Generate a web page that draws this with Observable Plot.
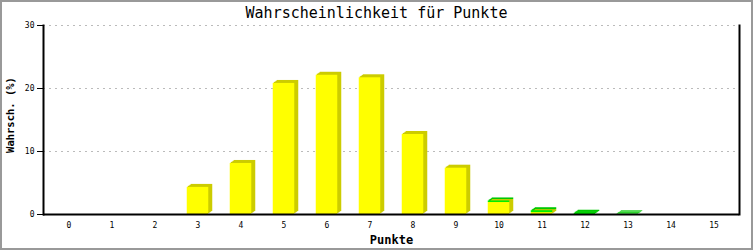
<!DOCTYPE html>
<html>
<head>
<meta charset="utf-8">
<script src="https://cdn.jsdelivr.net/npm/d3@7"></script>
<script src="https://cdn.jsdelivr.net/npm/@observablehq/plot@0.6"></script>
<style>
  html, body { margin: 0; padding: 0; background: #fff; }
  #wrap { position: relative; width: 753px; height: 250px; }
  #border { position: absolute; left: 0; top: 0; width: 753px; height: 250px; box-sizing: border-box; border: 2px solid #999; pointer-events: none; }
</style>
</head>
<body>
<div id="wrap"><div id="chart"></div><div id="border"></div></div>
<script>
const punkte = ["0","1","2","3","4","5","6","7","8","9","10","11","12","13","14","15"];
const gelb   = [0, 0, 0, 4.3, 8.1, 20.8, 22.1, 21.7, 12.7, 7.35, 1.9, 0.3, 0, 0, 0, 0];
const gruen  = [0, 0, 0, 0, 0, 0, 0, 0, 0, 0, 0.25, 0.3, 0.2, 0.1, 0, 0];
const yTicks = [0, 10, 20, 30];
const titel = "Wahrscheinlichkeit für Punkte";
const xTitel = "Punkte";
const yTitel = "Wahrsch. (%)";

const data = [];
punkte.forEach((p, i) => {
  data.push({p, s: "gelb", v: gelb[i]});
  data.push({p, s: "gruen", v: gruen[i]});
});
const rows = data.filter(d => d.v > 0);

const front = {gelb: "#ffff00", gruen: "#00ee00"};
const side = {gelb: "#cccc00", gruen: "#00c800"};

const inset = 10.75;
const shadowOffsets = [[1, -1], [2, -1.5], [3, -2.25], [4, -3]];
const shadowMarks = shadowOffsets.map(([dx, dy]) =>
  Plot.barY(rows, Plot.stackY({x: "p", y: "v", fill: d => side[d.s], insetLeft: inset, insetRight: inset, dx, dy}))
);

const chart = Plot.plot({
  width: 753,
  height: 250,
  marginLeft: 43,
  marginRight: 14,
  marginTop: 25,
  marginBottom: 36,
  style: {background: "transparent", fontFamily: "DejaVu Sans Mono", color: "#000"},
  x: {domain: punkte, padding: 0, label: null},
  y: {domain: [0, 30], label: null},
  marks: [
    Plot.gridY(yTicks.filter(t => t > 0), {stroke: "#bbbbbb", strokeOpacity: 1, strokeDasharray: "2,4", strokeWidth: 1}),
    ...shadowMarks,
    Plot.barY(rows, Plot.stackY({x: "p", y: "v", fill: d => front[d.s], insetLeft: inset, insetRight: inset})),
    Plot.axisY({ticks: yTicks, tickSize: 6, tickPadding: 3, fontSize: 8, label: null}),
    Plot.axisX({tickSize: 0, tickPadding: 8, fontSize: 8, label: null}),
    Plot.ruleY([0], {stroke: "#000", strokeWidth: 2}),
    Plot.frame({anchor: "left", stroke: "#000", strokeWidth: 2}),
    Plot.frame({anchor: "right", stroke: "#000", strokeWidth: 2}),
    Plot.text([titel], {frameAnchor: "top", lineAnchor: "middle", dy: -12, dx: -15, fontSize: 15, fill: "#000"}),
    Plot.text([xTitel], {frameAnchor: "bottom", lineAnchor: "middle", dy: 26, fontSize: 12, fontWeight: "bold", fill: "#000"}),
    Plot.text([yTitel], {frameAnchor: "left", textAnchor: "middle", lineAnchor: "middle", dx: -33, dy: -5, rotate: -90, fontSize: 10.5, fontWeight: "bold", fill: "#000"})
  ]
});
document.getElementById("chart").appendChild(chart);
</script>
</body>
</html>
